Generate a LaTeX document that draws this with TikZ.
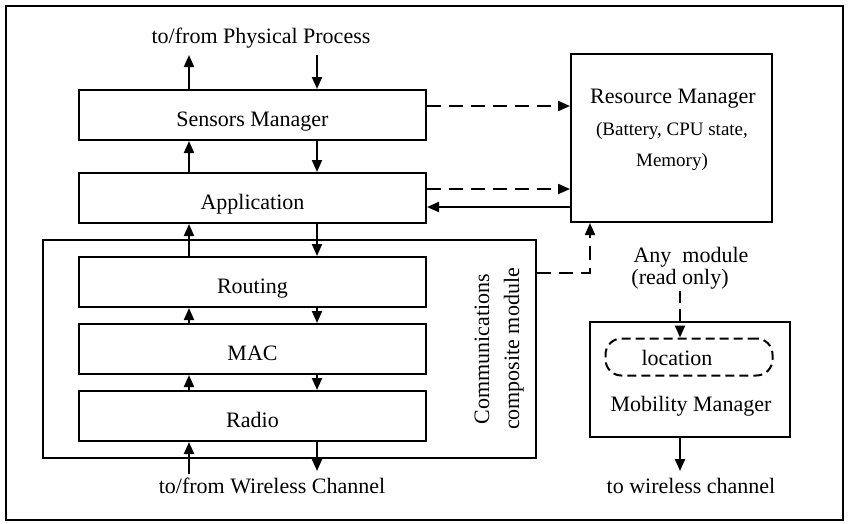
\documentclass[tikz,border=0pt]{standalone}
\usepackage{fontspec}
\setmainfont{Liberation Serif}
\usetikzlibrary{arrows.meta}
\begin{document}
\begin{tikzpicture}[x=1pt,y=-1pt,
  line join=miter,
  layer/.style={draw, line width=2pt, minimum width=347pt, minimum height=50pt, inner sep=0pt},
  panel/.style={draw, line width=2pt, inner sep=0pt},
  txt/.style={anchor=base, inner sep=0pt, font=\fontsize{22}{26}\selectfont},
  smalltxt/.style={anchor=base, inner sep=0pt, font=\fontsize{19}{22}\selectfont},
  vtxt/.style={anchor=base, inner sep=0pt, rotate=90, font=\fontsize{22}{26}\selectfont},
  arr/.style={line width=2pt, -{Triangle[length=12pt,width=10pt]}},
  darr/.style={line width=2pt, dash pattern=on 14pt off 8pt, -{Triangle[length=12pt,width=10pt]}}
]
\useasboundingbox (0,0) rectangle (848,523);

% outer frame
\draw[line width=2pt] (6,6) rectangle (843,520);

% protocol stack
\node[layer] (sm) at (252.5,115) {};
\node[layer] (app) at (252.5,198) {};
\node[panel, minimum width=493pt, minimum height=218pt] (comm) at (289.5,349) {};
\node[layer] (rout) at (252.5,282) {};
\node[layer] (mac) at (252.5,349) {};
\node[layer] (radio) at (252.5,416) {};

\node[txt] (smt) at (252.5,126) {Sensors Manager};
\node[txt] (appt) at (252.5,209) {Application};
\node[txt] (routt) at (252.5,293) {Routing};
\node[txt] (mact) at (252.5,360) {MAC};
\node[txt] (radiot) at (252.5,427) {Radio};
\node[vtxt] (comt1) at (489,349) {Communications};
\node[vtxt] (comt2) at (519,349) {composite module};

% resource manager
\node[panel, minimum width=201pt, minimum height=168pt] (rm) at (671.5,138) {};
\node[txt] (rmt1) at (673,103) {Resource Manager};
\node[smalltxt] (rmt2) at (672,135) {(Battery, CPU state,};
\node[smalltxt] (rmt3) at (672,166) {Memory)};

% mobility manager
\node[panel, minimum width=200pt, minimum height=115pt] (mob) at (690,379.5) {};
\node[draw, line width=2pt, dash pattern=on 9pt off 5pt, rounded corners=16pt,
      minimum width=167pt, minimum height=37pt, inner sep=0pt] (loc) at (689,357) {};
\node[txt] (loct) at (677,365) {location};
\node[txt] (mobt) at (691,411) {Mobility Manager};

% free labels
\node[txt] (ppt) at (261,43) {to/from Physical Process};
\node[txt] (wct) at (272,493) {to/from Wireless Channel};
\node[txt] (anyt) at (691,262) {Any\ \ module};
\node[txt] (rot) at (680,284) {(read only)};
\node[txt] (wlt) at (691,493) {to wireless channel};

% columns of the up/down links
\coordinate (colL) at (189,0);
\coordinate (colR) at (317,0);
\coordinate (ppUp) at (189,55);
\coordinate (ppDown) at (317,55);
\coordinate (wcUp) at (189,474);
\coordinate (wcDown) at (317,471);

\draw[arr] (sm.north -| colL) -- (ppUp);
\draw[arr] (ppDown) -- (sm.north -| colR);
\draw[arr] (app.north -| colL) -- (sm.south -| colL);
\draw[arr] (sm.south -| colR) -- (app.north -| colR);
\draw[arr] (rout.north -| colL) -- (app.south -| colL);
\draw[arr] (app.south -| colR) -- (rout.north -| colR);
\draw[arr] (mac.north -| colL) -- (rout.south -| colL);
\draw[arr] (rout.south -| colR) -- (mac.north -| colR);
\draw[arr] (radio.north -| colL) -- (mac.south -| colL);
\draw[arr] (mac.south -| colR) -- (radio.north -| colR);
\draw[arr] (wcUp) -- (radio.south -| colL);
\draw[arr] (radio.south -| colR) -- (wcDown);

% links to the resource manager
\draw[darr] ([yshift=9pt]sm.east) -- ([yshift=9pt]sm.east -| rm.west);
\draw[darr] ([yshift=9pt]app.east) -- ([yshift=9pt]app.east -| rm.west);
\draw[arr] ([yshift=-9pt]app.east -| rm.west) -- ([yshift=-9pt]app.east);
\coordinate (cbend) at (590,273);
\draw[darr] (comm.east |- cbend) -- (cbend) -- (rm.south -| cbend);

% mobility links
\coordinate (anyTop) at (680,291);
\coordinate (mobOut) at (680,471);
\draw[darr, dash pattern=on 12pt off 6pt] (anyTop) -- (loc.north -| anyTop);
\draw[arr] (mob.south -| mobOut) -- (mobOut);
\end{tikzpicture}
\end{document}
